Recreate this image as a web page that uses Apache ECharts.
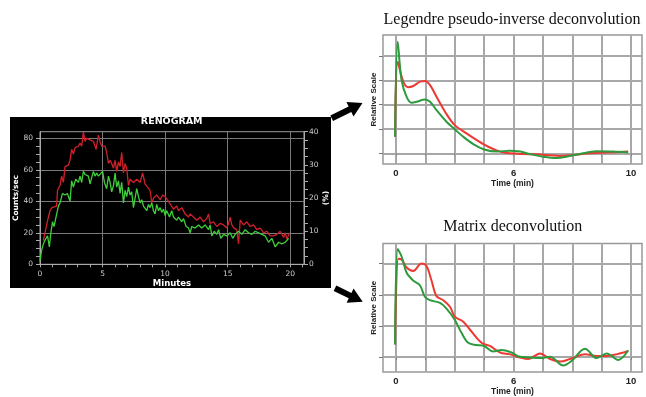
<!DOCTYPE html>
<html><head><meta charset="utf-8">
<script src="https://cdn.jsdelivr.net/npm/echarts@6/dist/echarts.min.js"></script>
<style>html,body{margin:0;padding:0;background:#fff}#c{width:646px;height:397px}</style>
</head><body><div id="c"></div>
<script>
// ---- Renogram (minutes, counts/sec) ----
const renogramRed = [[0.27,15],[0.45,22],[0.67,30],[0.8,34],[0.95,36],[1.1,36],[1.33,37],[1.4,47],[1.6,50],[1.73,56],[1.87,52],[2.0,62],[2.27,63],[2.4,66],[2.53,73],[2.67,70],[2.8,74],[3.07,75],[3.2,77],[3.33,75],[3.47,84],[3.6,78],[3.73,80],[4.0,79],[4.27,78],[4.48,73],[4.67,82],[4.8,78],[4.93,75],[5.2,75],[5.33,71],[5.47,64],[5.6,66],[5.73,64],[5.87,61],[6.0,66],[6.13,59],[6.27,65],[6.4,62],[6.53,71],[6.67,58],[6.8,64],[6.93,61],[7.07,50],[7.2,54],[7.47,52],[7.73,54],[8.0,52],[8.2,58],[8.4,51],[8.6,49],[8.8,47],[8.93,39],[9.07,42],[9.33,44],[9.6,41],[9.8,44],[10.0,43],[10.27,40],[10.4,41],[10.67,35],[10.93,37],[11.07,34],[11.33,36],[11.47,35],[11.6,32],[11.87,30],[12.0,32],[12.27,30],[12.53,28],[12.8,30],[13.07,27],[13.33,29],[13.47,32],[13.6,26],[13.87,27],[14.13,24],[14.4,26],[14.67,25],[14.93,23],[15.07,26],[15.2,30],[15.33,25],[15.5,23],[15.73,22],[15.87,13],[16.0,28],[16.27,25],[16.53,27],[16.8,24],[17.07,25],[17.33,22],[17.6,23],[17.87,20],[18.13,21],[18.4,18],[18.67,18],[18.93,19],[19.2,21],[19.47,17],[19.6,20],[19.73,16],[19.95,20]];
const renogramGreen = [[0,2],[0.13,9],[0.27,13],[0.48,16.5],[0.6,18],[0.75,11],[0.85,19],[1.0,27],[1.12,24],[1.28,30],[1.47,37],[1.6,39],[1.8,45],[2.0,44],[2.19,45],[2.4,40],[2.53,53],[2.67,49],[2.85,54],[3.07,52],[3.2,56],[3.33,52],[3.47,59],[3.6,57],[3.73,58],[3.87,56],[4.0,51],[4.13,55],[4.27,59],[4.4,56],[4.53,58],[4.67,56],[4.8,57],[5.0,59],[5.15,52],[5.33,48],[5.47,56],[5.6,52],[5.73,46],[5.87,50],[6.0,58],[6.13,49],[6.27,53],[6.4,45],[6.53,52],[6.67,39],[6.8,47],[6.93,43],[7.07,49],[7.2,44],[7.33,46],[7.47,36],[7.6,42],[7.73,48],[7.87,43],[8.0,39],[8.13,41],[8.27,37],[8.53,34],[8.67,38],[8.8,36],[8.93,39],[9.07,34],[9.2,32],[9.33,38],[9.47,34],[9.6,36],[9.73,33],[9.87,35],[10.0,31],[10.13,34],[10.35,30],[10.53,34],[10.67,30],[10.93,28],[11.07,30],[11.33,27],[11.47,29],[11.68,24],[11.87,23],[12.0,20],[12.13,24],[12.4,23],[12.67,25],[12.93,23],[13.2,25],[13.47,22],[13.6,25],[13.73,18],[13.92,21],[14.13,19],[14.27,22],[14.45,16.5],[14.67,19],[14.93,18],[15.2,20],[15.41,16.5],[15.6,19],[15.87,21],[16.13,19],[16.4,22],[16.67,20],[16.93,19],[17.2,21],[17.47,20],[17.73,19],[18.0,18],[18.27,14],[18.53,16.5],[18.8,11],[19.07,14],[19.33,13],[19.6,14],[19.87,16.5]];

// ---- Deconvolution curves (x in grid divisions, y relative scale) ----
const legendreRed = [[-0.03,0.68],[0.06,3.77],[0.25,2.95],[0.42,2.72],[0.59,2.77],[0.82,2.95],[0.99,2.98],[1.16,2.81],[1.38,2.33],[1.67,1.71],[2.0,1.16],[2.4,0.82],[2.74,0.55],[3.14,0.27],[3.54,0.07],[3.88,0],[4.33,-0.03],[4.78,-0.04],[5.24,-0.08],[5.58,-0.11],[6.03,-0.07],[6.6,0],[7.16,0.03],[7.9,0.07]];
const legendreGreen = [[-0.03,0.68],[0.06,4.59],[0.19,3.02],[0.36,2.33],[0.53,2.08],[0.7,2.12],[0.99,2.22],[1.16,2.12],[1.38,1.78],[1.72,1.3],[2.0,0.99],[2.29,0.68],[2.63,0.38],[3.0,0.16],[3.43,0.07],[3.88,0.11],[4.22,0.07],[4.56,-0.03],[5.01,-0.14],[5.47,-0.19],[5.8,-0.14],[6.25,-0.03],[6.82,0.08],[7.39,0.07],[7.9,0.03]];
const matrixRed = [[-0.03,0.41],[0.08,3.16],[0.19,3.14],[0.36,2.88],[0.59,2.77],[0.87,3.01],[1.04,2.93],[1.21,2.46],[1.38,1.96],[1.61,1.83],[1.84,1.62],[2.0,1.3],[2.29,1.14],[2.52,0.88],[2.91,0.46],[3.2,0.36],[3.54,0.15],[3.88,0.09],[4.22,-0.01],[4.5,-0.06],[4.9,0.12],[5.24,-0.06],[5.58,-0.14],[5.92,-0.06],[6.43,0.09],[6.83,0.04],[7.17,0.04],[7.5,0.09],[7.9,0.2]];
const matrixGreen = [[-0.03,0.41],[0.06,3.47],[0.19,3.24],[0.36,2.72],[0.59,2.46],[0.82,2.3],[0.99,1.93],[1.16,1.83],[1.5,1.74],[1.72,1.56],[2.0,1.2],[2.23,0.78],[2.46,0.46],[2.74,0.39],[3.0,0.36],[3.31,0.18],[3.59,0.23],[3.93,0.15],[4.22,0.01],[4.56,-0.01],[4.9,-0.03],[5.24,0.01],[5.69,-0.27],[5.98,-0.12],[6.43,0.27],[6.83,-0.03],[7.17,0.12],[7.56,-0.09],[7.9,0.22]];

// ---- Ticks / labels ----
const renoXMinorTicks = [0,1,2,3,4,5,6,7,8,9,10,11,12,13,14,15,16,17,18,19,20,21];
const renoLeftMinorTicks = [0,5,10,15,20,25,30,35,40,45,50,55,60,65,70,75,80];
const renoRightTicks = [0,2.5,5,7.5,10,12.5,15,17.5,20,22.5,25,27.5,30,32.5,35,37.5,40];
const timeGridPos = [0,1,2,3,4,5,6,7,8];
const timeLabelPos = [0,4,8];
const timeLabelText = ['0','6','10'];
const legendreGridY = [0,1,2,3,4];
const matrixGridY = [0,1,2,3];

const renoFont = '"DejaVu Sans", Verdana, sans-serif';
const narrowFont = '"Liberation Sans", Arial, sans-serif';

function arrow(T, P, bw, hw, hl) {
  const dx = P[0]-T[0], dy = P[1]-T[1], L = Math.hypot(dx, dy);
  const u = [dx/L, dy/L], n = [-u[1], u[0]];
  const B = [P[0]-hl*u[0], P[1]-hl*u[1]];
  const pt = (A, k) => [A[0]+k*n[0], A[1]+k*n[1]];
  return [pt(T,bw), pt(B,bw), pt(B,hw), P, pt(B,-hw), pt(B,-bw), pt(T,-bw)];
}

const chart = echarts.init(document.getElementById('c'), null, {renderer:'canvas'});
const rightX = (gi) => ({
  gridIndex: gi, type:'value', min:-0.44, max:8.37,
  axisLine:{show:false},
  axisTick:{show:true, customValues: timeGridPos, length:3, lineStyle:{color:'#888', width:1}},
  axisLabel:{customValues: timeLabelPos, formatter: v => timeLabelText[timeLabelPos.indexOf(Math.round(v))],
    fontFamily: narrowFont, fontWeight:'bold', fontSize:9.5, color:'#222', margin:4},
  splitLine:{show:true, lineStyle:{color:'#a8a8a8', width:2}},
  name:'Time (min)', nameLocation:'middle', nameGap:13,
  nameTextStyle:{fontFamily: narrowFont, fontWeight:'bold', fontSize:8.5, color:'#222'}
});
const rightY = (gi, mn, mx, ticks) => ({
  gridIndex: gi, type:'value', min:mn, max:mx,
  axisLine:{show:false, onZero:false},
  axisTick:{show:true, customValues: ticks, length:4, lineStyle:{color:'#777', width:1}},
  axisLabel:{show:false},
  splitLine:{show:true, lineStyle:{color:'#a8a8a8', width:2}},
  name:'Relative Scale', nameLocation:'middle', nameGap:5,
  nameTextStyle:{fontFamily: narrowFont, fontWeight:'bold', fontSize:8, color:'#222'}
});

const option = {
  backgroundColor:'#fff',
  animation:false,
  grid:[
    {left:40, top:131.7, width:264, height:132.6, show:true, borderColor:'#aaa', borderWidth:1, backgroundColor:'transparent'},
    {left:383, top:35, width:259, height:129, show:true, borderColor:'#999', borderWidth:1.5, backgroundColor:'transparent'},
    {left:383, top:243.5, width:259, height:131.5, show:true, borderColor:'#999', borderWidth:1.5, backgroundColor:'transparent'}
  ],
  xAxis:[
    {gridIndex:0, type:'value', min:0, max:21.1, interval:5, position:'bottom',
      axisLine:{onZero:false, lineStyle:{color:'#aaa'}}, axisTick:{show:false},
      axisLabel:{showMaxLabel:false, color:'#ccc', fontSize:7.5, fontFamily:renoFont, margin:6},
      splitLine:{show:true, lineStyle:{color:'#7a7a7a', width:1}},
      name:'Minutes', nameLocation:'middle', nameGap:14,
      nameTextStyle:{color:'#fff', fontWeight:'bold', fontSize:8.5, fontFamily:renoFont}},
    {gridIndex:0, type:'value', min:0, max:21.1, position:'bottom',
      axisLine:{show:false, onZero:false}, axisLabel:{show:false}, splitLine:{show:false},
      axisTick:{show:true, customValues: renoXMinorTicks, length:3, lineStyle:{color:'#aaa'}}},
    rightX(1),
    rightX(2)
  ],
  yAxis:[
    {gridIndex:0, type:'value', min:0, max:84.2, interval:20, position:'left',
      axisLine:{show:true, onZero:false, lineStyle:{color:'#aaa'}}, axisTick:{show:false},
      axisLabel:{showMaxLabel:false, color:'#ccc', fontSize:7.5, fontFamily:renoFont, margin:7},
      splitLine:{show:true, lineStyle:{color:'#7a7a7a', width:1}},
      name:'Counts/sec', nameLocation:'middle', nameGap:17.5, nameRotate:90,
      nameTextStyle:{color:'#fff', fontWeight:'bold', fontSize:7.5, fontFamily:renoFont}},
    {gridIndex:0, type:'value', min:0, max:40, interval:10, position:'right',
      axisLine:{show:true, onZero:false, lineStyle:{color:'#aaa'}},
      axisTick:{show:true, customValues: renoRightTicks, length:4, lineStyle:{color:'#aaa'}},
      axisLabel:{color:'#ccc', fontSize:7.5, fontFamily:renoFont, margin:5},
      splitLine:{show:false},
      name:'(%)', nameLocation:'middle', nameGap:16, nameRotate:90,
      nameTextStyle:{color:'#fff', fontWeight:'bold', fontSize:7.5, fontFamily:renoFont}},
    {gridIndex:0, type:'value', min:0, max:84.2, position:'left',
      axisLine:{show:false, onZero:false}, axisLabel:{show:false}, splitLine:{show:false},
      axisTick:{show:true, customValues: renoLeftMinorTicks, length:4, lineStyle:{color:'#aaa'}}},
    rightY(1, -0.44, 4.87, legendreGridY),
    rightY(2, -0.48, 3.65, matrixGridY)
  ],
  graphic:{elements:[
    {type:'rect', z:-10, shape:{x:10, y:117, width:321, height:171}, style:{fill:'#000'}},
    {type:'text', z:10, style:{text:'RENOGRAM', x:171.7, y:121.7, textAlign:'center', textVerticalAlign:'middle', align:'center', verticalAlign:'middle',
      font:'bold 9.5px "DejaVu Sans", Verdana, sans-serif', fill:'#fff'}},
    {type:'text', z:10, style:{text:'Legendre pseudo-inverse deconvolution', x:512, y:20, textAlign:'center', textVerticalAlign:'middle', align:'center', verticalAlign:'middle',
      font:'16px "Liberation Serif", "Times New Roman", serif', fill:'#111'}},
    {type:'text', z:10, style:{text:'Matrix deconvolution', x:512.7, y:226.7, textAlign:'center', textVerticalAlign:'middle', align:'center', verticalAlign:'middle',
      font:'16px "Liberation Serif", "Times New Roman", serif', fill:'#111'}},
    {type:'polygon', z:10, shape:{points: arrow([331.7,118.3],[362.5,103],3,8,14)}, style:{fill:'#000'}},
    {type:'polygon', z:10, shape:{points: arrow([335,288.3],[362.7,301.7],3,8,14)}, style:{fill:'#000'}}
  ]},
  series:[
    {type:'line', xAxisIndex:0, yAxisIndex:0, data:renogramRed, symbol:'none', lineStyle:{color:'#d0202a', width:1.3}, z:3},
    {type:'line', xAxisIndex:0, yAxisIndex:0, data:renogramGreen, symbol:'none', lineStyle:{color:'#3fcf3a', width:1.3}, z:4},
    {type:'line', xAxisIndex:2, yAxisIndex:3, data:legendreRed, symbol:'none', smooth:0.35, lineStyle:{color:'#ec3a33', width:2}, z:3},
    {type:'line', xAxisIndex:2, yAxisIndex:3, data:legendreGreen, symbol:'none', smooth:0.35, lineStyle:{color:'#2e9a3e', width:2}, z:4},
    {type:'line', xAxisIndex:3, yAxisIndex:4, data:matrixRed, symbol:'none', smooth:0.35, lineStyle:{color:'#ec3a33', width:2}, z:3},
    {type:'line', xAxisIndex:3, yAxisIndex:4, data:matrixGreen, symbol:'none', smooth:0.35, lineStyle:{color:'#2e9a3e', width:2}, z:4}
  ]
};
chart.setOption(option);
</script></body></html>
